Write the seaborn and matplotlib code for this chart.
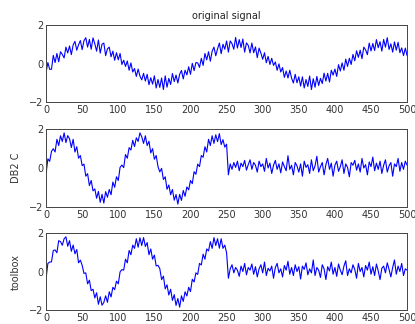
import numpy as np
import pandas as pd
import matplotlib
matplotlib.use("Agg")
import matplotlib.pyplot as plt
import seaborn as sns

# sample spacing 2.5 over 0..500
original = [
 -.45,.05,-.30,
 -.30,.42,.05,.52,.09,.61,.47,.29,.85,.55,.91,.46,.96,1.15,.69,.97,1.19,.72,1.18,1.34,.85,
 1.25,.74,1.33,1.02,.64,1.22,.54,1.00,1.06,.41,.76,.85,.35,.64,.17,.56,.19,.52,-.05,.17,-.15,
 .13,-.35,.03,-.44,-.26,-.67,-.29,-.65,-.85,-.51,-.91,-.56,-1.10,-.74,-1.07,-.64,-1.27,-.83,-1.24,-.75,-1.35,
 -.64,-1.23,-.77,-1.09,-.52,-.94,-.60,-1.01,-.56,-.36,-.80,-.35,-.59,-.17,-.56,.01,-.37,.05,.03,-.20,
 .27,-.10,.52,.19,.61,.12,.64,.85,.40,.76,1.06,.51,1.00,.74,1.17,.59,1.17,1.03,.74,1.35,.80,
 1.24,.83,1.27,.59,1.07,.94,.55,1.06,.56,.86,.30,.80,.54,.22,.56,.04,.37,-.05,.27,-.10,.08,
 -.35,-.02,-.44,-.21,-.72,-.39,-.75,-.35,-.76,-1.01,-.56,-1.00,-.69,-1.17,-.69,-1.27,-.83,-1.19,-.65,-1.35,-.79,
 -1.23,-.67,-1.14,-.77,-1.04,-.50,-.91,-.51,-.96,-.35,-.60,-.29,-.67,-.06,-.39,.03,-.35,.23,-.15,.27,
 -.05,.47,.14,.66,.32,.69,.25,.85,.71,.46,1.06,.65,1.04,.67,1.24,.82,1.13,.64,1.25,.85,1.34,.73,1.02,.59,
 1.12,.69,1.10,.56,.81,.41,.80,.40,
]

db2c = [
 -.30,.47,.34,.85,.99,.82,1.47,1.15,1.65,1.36,1.80,1.30,1.66,1.50,1.05,1.47,.82,1.09,.50,.64,.12,
 .20,-.42,-.29,-.90,-.64,-1.17,-1.07,-1.55,-1.20,-1.76,-1.35,-1.80,-1.21,-1.50,-1.10,-1.37,-.72,-.99,-.45,-.64,.03,
 .15,.02,.69,.50,1.04,.92,1.42,1.10,1.55,1.36,1.80,1.60,1.26,1.65,1.15,1.37,.77,.99,.45,.64,.07,
 -.20,-.02,-.59,-.45,-1.09,-.87,-1.37,-1.10,-1.65,-1.36,-1.85,-1.35,-1.66,-1.15,-1.45,-.97,-1.12,-.64,-.80,-.19,-.32,
 .20,.07,.64,.55,1.09,.82,1.47,1.15,1.65,1.26,1.70,1.35,1.76,1.20,1.45,1.07,1.22,
 -.35,.21,-.07,.28,.03,.35,-.14,.25,.07,.39,
 -.11,.17,.42,-.07,.28,.14,-.21,.35,.07,.21,
 -.17,.49,.00,.25,-.28,.14,.39,-.07,.21,-.25,
 .31,.07,-.14,.63,-.07,.14,-.35,.28,.11,-.21,
 .21,-.42,.35,.03,.17,-.28,.42,-.14,.11,.60,
 -.21,.07,.28,-.35,.17,.49,-.07,.25,-.42,.14,
 .35,-.17,.07,.42,-.28,.21,.03,-.45,.28,.14,
 .39,-.11,.21,-.21,.49,.00,.17,-.35,.31,.07,
 .56,-.14,.25,-.07,.35,-.28,.14,.42,-.21,.11,
 .28,-.42,.21,.07,.49,-.17,.28,-.07,.35,.14,
]

toolbox = [
 -.35,.42,.49,.50,1.09,1.12,.97,1.60,1.55,1.36,1.70,1.80,1.31,1.60,1.05,1.37,.92,1.14,.45,.59,.32,
 -.10,-.07,-.64,-.45,-.99,-.92,-1.37,-1.10,-1.70,-1.31,-1.75,-1.60,-1.26,-1.60,-1.05,-1.32,-.82,-.94,-.50,-.64,-.02,
 .10,.07,.64,.45,1.09,.87,1.37,1.20,1.70,1.26,1.75,1.35,1.76,1.30,1.50,.87,1.17,.64,.85,.29,.32,
 .15,-.42,-.24,-.90,-.69,-1.22,-.92,-1.50,-1.20,-1.76,-1.40,-1.85,-1.26,-1.55,-1.05,-1.27,-.82,-1.04,-.40,-.54,-.07,
 -.15,.42,.34,.90,.64,1.17,1.07,1.55,1.20,1.76,1.35,1.70,1.21,1.70,1.20,1.37,.97,
 -.35,.14,.35,-.07,.21,.07,-.25,.28,.00,.42,
 -.17,.21,.07,.39,-.14,.25,-.28,.14,.35,-.07,
 .49,-.21,.17,.03,.28,-.35,.21,.42,-.07,.14,
 -.28,.31,.07,.53,-.14,.21,-.21,.35,.00,.25,
 -.39,.28,.11,.45,-.17,.14,-.07,.60,-.21,.21,
 .07,-.31,.35,.14,-.42,.25,.03,.49,-.14,.21,
 -.25,.39,.07,-.17,.28,.56,-.21,.14,-.07,.35,
 .11,-.35,.42,.00,.21,-.28,.31,.07,.49,-.14,
 .25,-.21,.39,.03,-.42,.17,.28,-.07,.45,.11,
 -.28,.21,.60,-.14,.28,.00,.42,-.21,.14,.07,
]

x_ticks = [0, 50, 100, 150, 200, 250, 300, 350, 400, 450, 500]
y_ticks = [-2, 0, 2]
titles = ["original signal", "", ""]
ylabels = ["", "DB2 C", "toolbox"]

sns.set_style("white")
plt.rcParams["font.family"] = ["DejaVu Sans"]

fig = plt.figure(figsize=(4.15, 3.24), dpi=100)
positions = [
    [0.111, 0.685, 0.870, 0.238],
    [0.111, 0.361, 0.870, 0.241],
    [0.111, 0.043, 0.870, 0.238],
]
series = [original, db2c, toolbox]
for pos, ys, title, ylab in zip(positions, series, titles, ylabels):
    ax = fig.add_axes(pos)
    n = len(ys)
    df = pd.DataFrame({"x": np.linspace(0, 500, n), "y": ys})
    sns.lineplot(data=df, x="x", y="y", ax=ax, color="#0000ff", linewidth=0.8)
    ax.set_xlim(0, 500)
    ax.set_ylim(-2, 2)
    ax.set_xticks(x_ticks)
    ax.set_yticks(y_ticks)
    ax.tick_params(direction="in", length=2.5, width=0.6, labelsize=7,
                   colors="#333333", pad=2)
    ax.set_xlabel("")
    ax.set_ylabel(ylab, fontsize=7, color="#333333", labelpad=6)
    if title:
        ax.set_title(title, fontsize=7, color="#222222", pad=4)
    for s in ax.spines.values():
        s.set_visible(True)
        s.set_linewidth(0.7)
        s.set_color("#444444")

fig.savefig("out.png", dpi=100)
